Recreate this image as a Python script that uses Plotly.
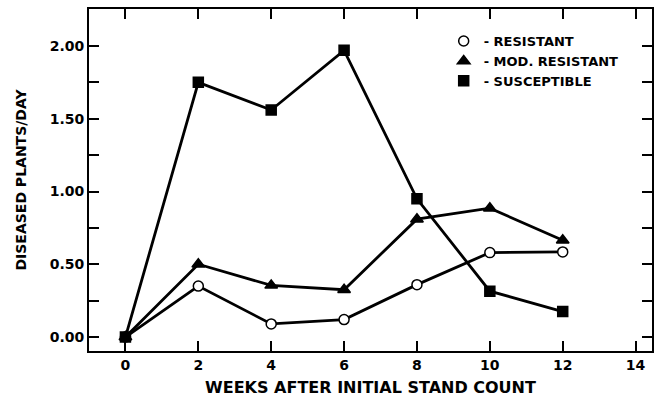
import plotly.graph_objects as go

weeks = [0, 2, 4, 6, 8, 10, 12]
resistant = [0.00, 0.35, 0.09, 0.12, 0.36, 0.58, 0.585]
mod_resistant = [0.00, 0.50, 0.355, 0.325, 0.81, 0.885, 0.665]
susceptible = [0.00, 1.75, 1.56, 1.97, 0.95, 0.315, 0.175]

names = ["- RESISTANT", "- MOD. RESISTANT", "- SUSCEPTIBLE"]
series = [resistant, mod_resistant, susceptible]
symbols = ["circle", "triangle-up", "square"]
fills = ["white", "black", "black"]
sizes = [10, 11, 10]

ytickvals = [0, 0.25, 0.5, 0.75, 1.0, 1.25, 1.5, 1.75, 2.0]
yticktext = ["0.00", "", "0.50", "", "1.00", "", "1.50", "", "2.00"]

FONT = "DejaVu Sans"
fig = go.Figure()

for vals, sym, fc, sz in zip(series, symbols, fills, sizes):
    fig.add_trace(go.Scatter(
        x=weeks, y=vals, mode="lines+markers", showlegend=False,
        line=dict(color="black", width=2.8),
        marker=dict(symbol=sym, size=sz, color=fc, line=dict(color="black", width=1.5)),
    ))

for name, sym, fc, sz in zip(names, symbols, fills, sizes):
    fig.add_trace(go.Scatter(
        x=[None], y=[None], mode="markers", name=name,
        marker=dict(symbol=sym, size=sz, color=fc, line=dict(color="black", width=1.5)),
    ))

fig.update_layout(
    width=655, height=400,
    margin=dict(l=89, r=1, t=9, b=49),
    paper_bgcolor="white", plot_bgcolor="white",
    font=dict(family=FONT, color="black", weight="bold"),
    legend=dict(x=0.63, y=0.95, xanchor="left", yanchor="top",
                font=dict(size=13, family=FONT, weight="bold"),
                bgcolor="rgba(0,0,0,0)", tracegroupgap=0),
    xaxis=dict(
        range=[-1, 14.45], tickvals=[0, 2, 4, 6, 8, 10, 12, 14],
        ticks="inside", ticklen=10, tickwidth=1.5, tickcolor="black",
        showline=True, linecolor="black", linewidth=2, mirror="ticks",
        showgrid=False, zeroline=False,
        tickfont=dict(size=14, family=FONT, weight="bold"),
        title=dict(text="WEEKS AFTER INITIAL STAND COUNT", standoff=10,
                   font=dict(size=16, family=FONT, weight="bold")),
    ),
    yaxis=dict(
        range=[-0.096, 2.254], tickvals=ytickvals, ticktext=yticktext,
        ticks="inside", ticklen=10, tickwidth=1.5, tickcolor="black",
        showline=True, linecolor="black", linewidth=2, mirror="ticks",
        showgrid=False, zeroline=False,
        tickfont=dict(size=14, family=FONT, weight="bold"),
        title=dict(text="DISEASED PLANTS/DAY", standoff=20,
                   font=dict(size=14, family=FONT, weight="bold")),
    ),
)

fig.write_html("out.html", config={"displayModeBar": False},
               post_script="document.body.style.margin='0';")
